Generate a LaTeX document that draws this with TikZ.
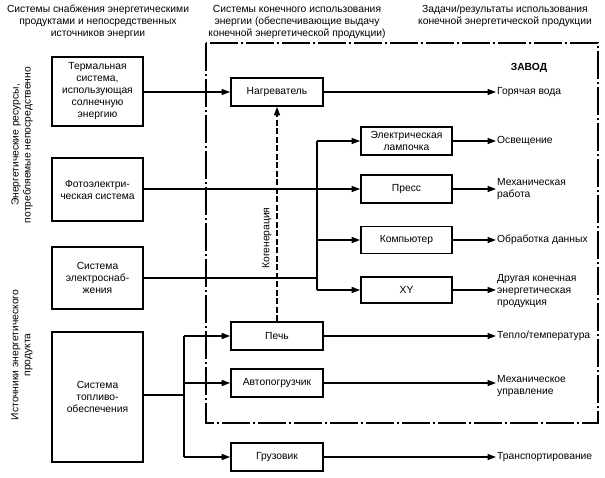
\documentclass[tikz,border=0pt]{standalone}
\usepackage{fontspec}
\setmainfont{Liberation Sans}
\usetikzlibrary{arrows.meta}
\tikzset{
  txt/.style={font=\fontsize{10.3}{12}\selectfont, inner sep=0pt},
  box/.style={txt, draw, line width=1.7pt, align=center, minimum width=91pt, minimum height=28pt},
  conn/.style={line width=1.5pt},
  arr/.style={conn, -{Triangle[length=8.5pt,width=6pt]}},
  frame/.style={line width=1.3pt, dash pattern=on 28pt off 3pt on 2pt off 3pt},
  cogen/.style={line width=1.4pt, dash pattern=on 6pt off 2.5pt, -{Triangle[length=8.5pt,width=6pt]}},
  outlbl/.style={txt, anchor=west, align=left}
}
\begin{document}
\begin{tikzpicture}[x=1pt,y=-1pt]
\useasboundingbox (0,0) rectangle (605,477);
% headers
\node[txt, align=center] (h1) at (98,22) {Системы снабжения энергетическими\\продуктами и непосредственных\\источников энергии};
\node[txt, align=center] (h2) at (297,22) {Системы конечного использования\\энергии (обеспечивающие выдачу\\конечной энергетической продукции)};
\node[txt, align=center] (h3) at (505,16) {Задачи/результаты использования\\конечной энергетической продукции};
% side labels
\node[txt, align=center, rotate=90] (s1) at (22,145) {Энергетические ресурсы,\\потребляемые непосредственно};
\node[txt, align=center, rotate=90] (s2) at (22,355) {Источники энергетического\\продукта};
% frame
\draw[frame] (206,43) rectangle (598,423);
\node[txt, font=\fontsize{10.3}{12}\selectfont\bfseries] (zavod) at (529,68) {ЗАВОД};
% left boxes
\node[box, minimum height=69pt] (thermal) at (97.5,91.5) {Термальная\\система,\\использующая\\солнечную\\энергию};
\node[box, minimum height=63pt] (photo) at (97.5,189.5) {Фотоэлектри-\\ческая система};
\node[box, minimum height=62pt] (electro) at (97.5,278) {Система\\электроснаб-\\жения};
\node[box, minimum height=130pt] (fuel) at (97.5,397) {Система\\топливо-\\обеспечения};
% middle boxes
\node[box, minimum width=92pt] (heater) at (277,92) {Нагреватель};
\node[box, minimum width=92pt] (oven) at (277,336) {Печь};
\node[box, minimum width=92pt] (loader) at (277,383) {Автопогрузчик};
\node[box, minimum width=92pt] (truck) at (277,457) {Грузовик};
% right boxes
\node[box] (lamp) at (406.5,141) {Электрическая\\лампочка};
\node[box] (press) at (406.5,189) {Пресс};
\node[box, minimum height=27pt] (comp) at (406.5,240) {Компьютер};
\node[box, minimum height=26pt] (xy) at (406.5,290) {XY};
% outputs
\node[outlbl] (o1) at (497,92) {Горячая вода};
\node[outlbl] (o2) at (497,141) {Освещение};
\node[outlbl] (o3) at (497,189) {Механическая\\работа};
\node[outlbl] (o4) at (497,240) {Обработка данных};
\node[outlbl] (o5) at (497,291) {Другая конечная\\энергетическая\\продукция};
\node[outlbl] (o6) at (497,336) {Тепло/температура};
\node[outlbl] (o7) at (497,386) {Механическое\\управление};
\node[outlbl] (o8) at (497,457) {Транспортирование};
% junctions
\coordinate (btop) at (317,141);
\coordinate (bcomp) at (317,240);
\coordinate (bbot) at (317,290);
\coordinate (ej) at (317,278);
\coordinate (fj) at (184,395);
\coordinate (ftop) at (184,336);
\coordinate (fmid) at (184,383);
\coordinate (fbot) at (184,457);
% connectors
\draw[arr] (thermal.east |- heater) -- (heater.west);
\draw[arr] (photo.east |- press) -- (press.west);
\draw[conn] (electro.east |- ej) -- (ej);
\draw[conn] (btop) -- (bbot);
\draw[arr] (btop) -- (lamp.west);
\draw[arr] (bcomp) -- (comp.west);
\draw[arr] (bbot) -- (xy.west);
\draw[conn] (fuel.east |- fj) -- (fj);
\draw[conn] (ftop) -- (fbot);
\draw[arr] (ftop) -- (oven.west);
\draw[arr] (fmid) -- (loader.west);
\draw[arr] (fbot) -- (truck.west);
\draw[cogen] (oven.north) -- (heater.south);
\node[txt, rotate=90] (cg) at (267,238) {Когенерация};
% outputs arrows
\draw[arr] (heater.east) -- ([xshift=-1pt]o1.west);
\draw[arr] (lamp.east) -- ([xshift=-1pt]o2.west);
\draw[arr] (press.east) -- ([xshift=-1pt]press.east -| o3.west);
\draw[arr] (comp.east) -- ([xshift=-1pt]o4.west);
\draw[arr] (xy.east) -- ([xshift=-1pt]xy.east -| o5.west);
\draw[arr] (oven.east) -- ([xshift=-1pt]o6.west);
\draw[arr] (loader.east) -- ([xshift=-1pt]loader.east -| o7.west);
\draw[arr] (truck.east) -- ([xshift=-1pt]o8.west);
\end{tikzpicture}
\end{document}
